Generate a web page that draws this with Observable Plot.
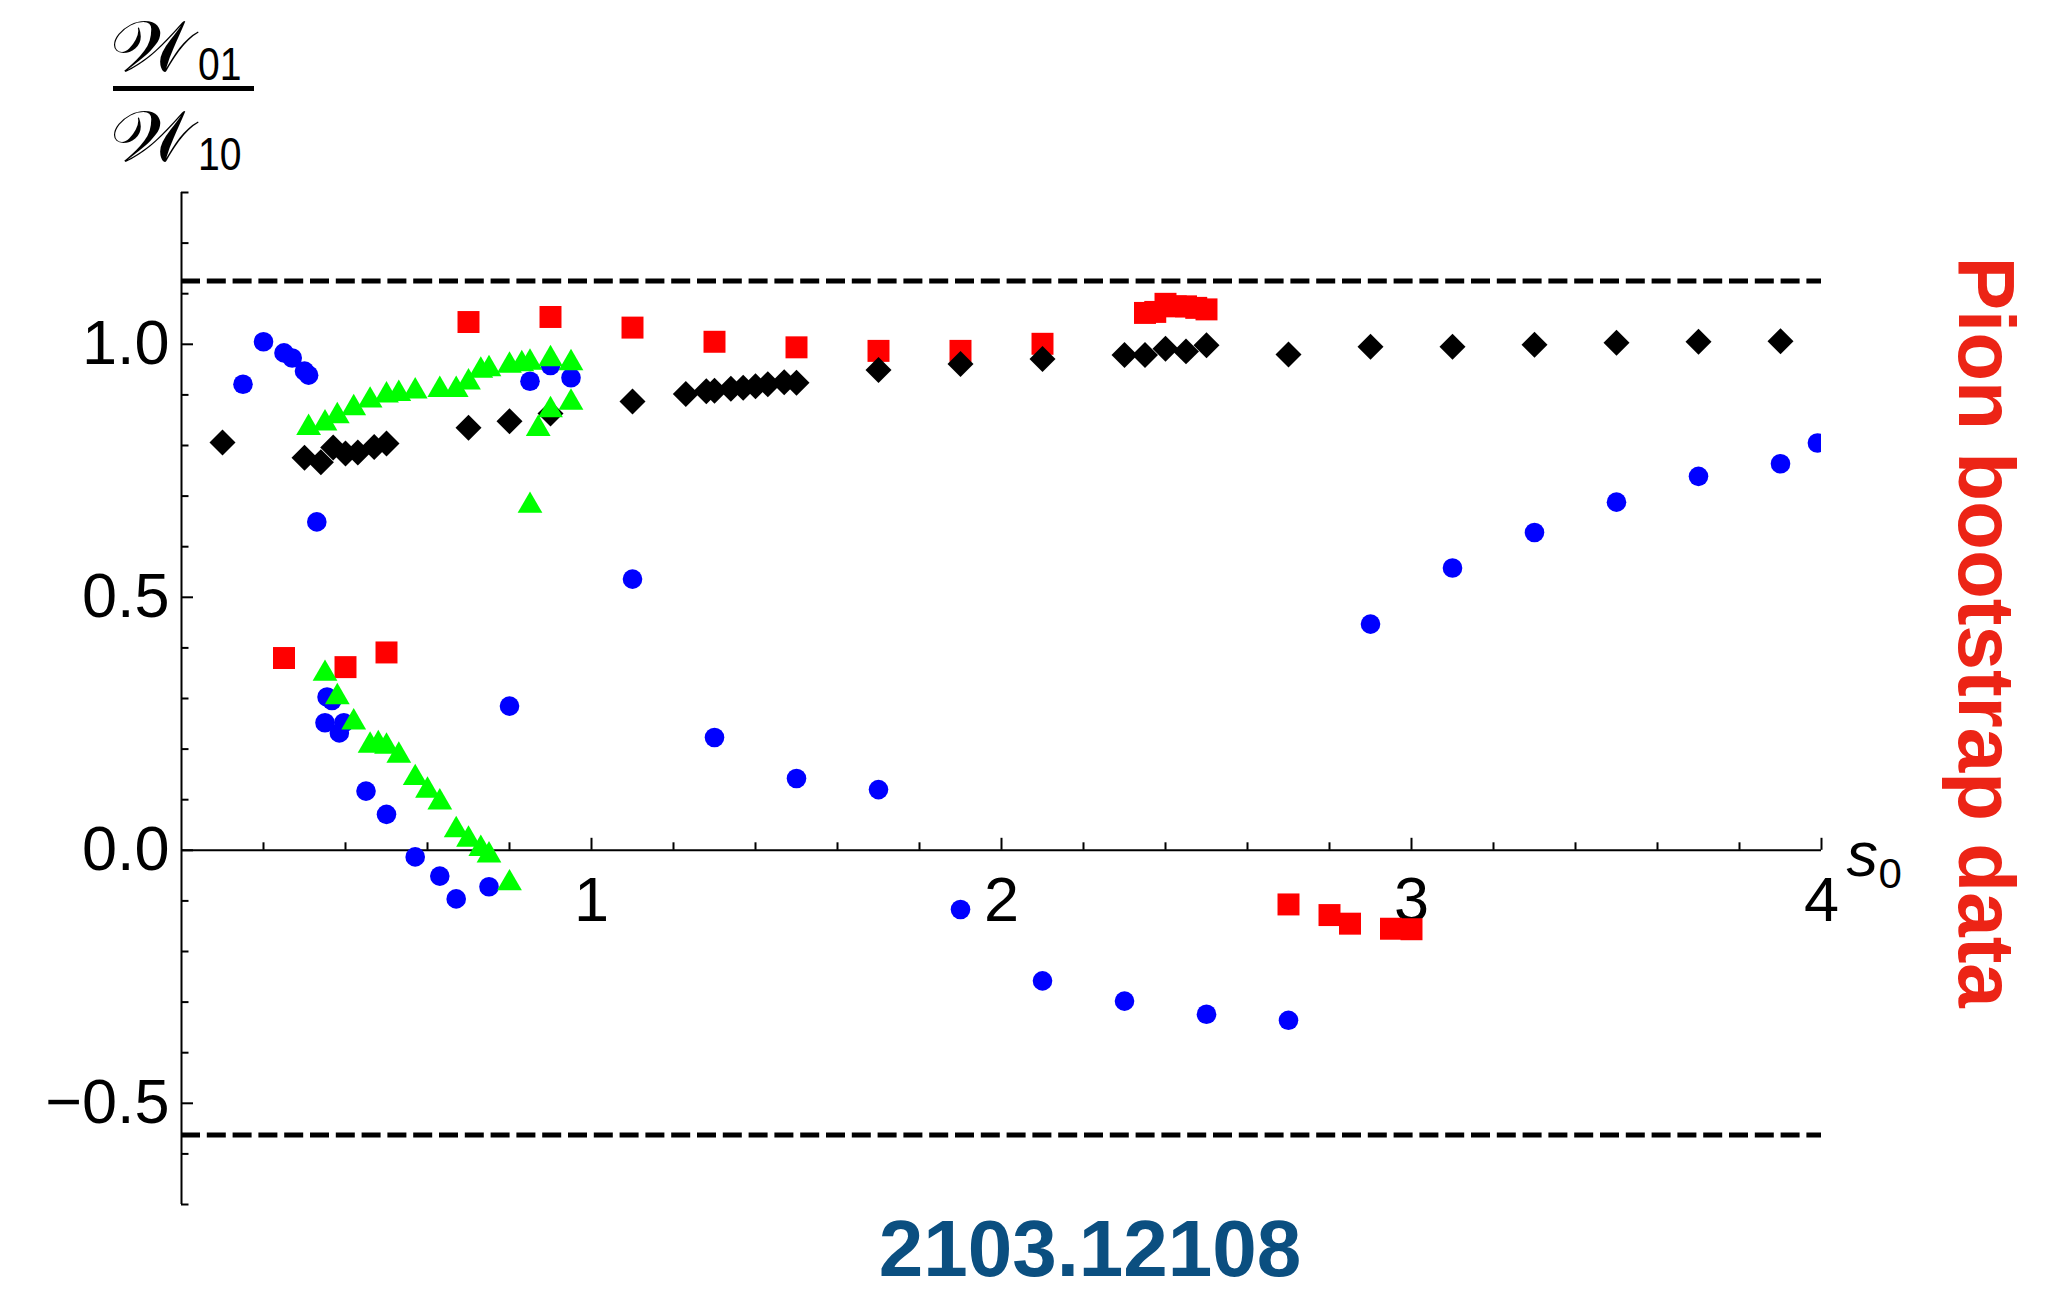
<!DOCTYPE html>
<html>
<head>
<meta charset="utf-8">
<script src="https://cdn.jsdelivr.net/npm/d3@7"></script>
<script src="https://cdn.jsdelivr.net/npm/@observablehq/plot@0.6"></script>
<style>
  html, body { margin: 0; padding: 0; background: #fff; }
  #wrap { width: 2050px; height: 1294px; position: relative; font-family: "Liberation Sans", Arial, sans-serif; }
  #ylab { position: relative; height: 180px; }
  #ylab span { position: absolute; line-height: 1; white-space: nowrap; color: #000; transform-origin: 0 50%; }
  .W { font-family: "DejaVu Serif", "DejaVu Sans", serif; font-size: 72px; transform: scaleX(1.1); }
  .sub { font-family: "Liberation Sans", Arial, sans-serif; font-size: 46px; transform: scaleX(0.85); }
  #bar { position: absolute; left: 113px; top: 86px; width: 141px; height: 4.5px; background: #000; }
  #cap { position: relative; height: 85px; }
  #cap span { position: absolute; left: 1090px; top: -5px; transform: translateX(-50%); line-height: 1.117; white-space: nowrap;
              font-family: "Liberation Sans", Arial, sans-serif; font-weight: bold; font-size: 80px; color: #0b4f80; }
  svg { display: block; }
</style>
</head>
<body>
<div id="wrap">
  <div id="ylab">
    <span class="W" style="left:110px; top:10px;">𝒲</span>
    <span class="sub" style="left:198px; top:41px;">01</span>
    <div id="bar"></div>
    <span class="W" style="left:110px; top:100px;">𝒲</span>
    <span class="sub" style="left:198px; top:131px;">10</span>
  </div>
  <div id="chart"></div>
  <div id="cap"><span>2103.12108</span></div>
</div>
<script>
// ---- data ----
const blueCircles = [
  [0.15, 0.921], [0.20, 1.005], [0.25, 0.983], [0.27, 0.973], [0.30, 0.947], [0.31, 0.939],
  [0.33, 0.649], [0.35, 0.252], [0.355, 0.303], [0.367, 0.296], [0.385, 0.232], [0.396, 0.252],
  [0.45, 0.117], [0.50, 0.071], [0.57, -0.013], [0.63, -0.051], [0.67, -0.096], [0.75, -0.072],
  [0.80, 0.285], [0.85, 0.927], [0.90, 0.958], [0.95, 0.934], [1.10, 0.536], [1.30, 0.223],
  [1.50, 0.142], [1.70, 0.120], [1.90, -0.117], [2.10, -0.258], [2.30, -0.298], [2.50, -0.324],
  [2.70, -0.336], [2.90, 0.447], [3.10, 0.558], [3.30, 0.628], [3.50, 0.688], [3.70, 0.739],
  [3.90, 0.764], [3.99, 0.805]
];
const redSquares = [
  [0.25, 0.380], [0.40, 0.362], [0.50, 0.391], [0.70, 1.044], [0.90, 1.054], [1.10, 1.033],
  [1.30, 1.005], [1.50, 0.994], [1.70, 0.987], [1.90, 0.987], [2.10, 1.001],
  [2.35, 1.062], [2.375, 1.064], [2.40, 1.080], [2.425, 1.075], [2.45, 1.075], [2.475, 1.072], [2.50, 1.069],
  [2.70, -0.107], [2.80, -0.128], [2.85, -0.145], [2.95, -0.155], [3.00, -0.156]
];
const blackDiamonds = [
  [0.10, 0.806], [0.30, 0.776], [0.34, 0.767], [0.37, 0.796], [0.40, 0.784], [0.43, 0.786],
  [0.47, 0.797], [0.50, 0.804], [0.70, 0.835], [0.80, 0.848], [0.90, 0.863], [1.10, 0.887],
  [1.23, 0.902], [1.28, 0.907], [1.30, 0.908], [1.34, 0.912], [1.37, 0.914], [1.40, 0.917],
  [1.43, 0.921], [1.47, 0.925], [1.50, 0.924], [1.70, 0.949], [1.90, 0.961], [2.10, 0.971],
  [2.30, 0.979], [2.35, 0.979], [2.40, 0.991], [2.45, 0.986], [2.50, 0.998], [2.70, 0.980],
  [2.90, 0.995], [3.10, 0.995], [3.30, 0.999], [3.50, 1.003], [3.70, 1.005], [3.90, 1.006]
];
const greenTriangles = [
  [0.31, 0.835], [0.35, 0.844], [0.38, 0.858], [0.42, 0.874], [0.46, 0.889], [0.50, 0.899],
  [0.53, 0.902], [0.57, 0.907], [0.63, 0.910], [0.67, 0.910], [0.70, 0.925], [0.73, 0.948],
  [0.75, 0.951], [0.80, 0.958], [0.83, 0.961], [0.85, 0.964], [0.90, 0.971], [0.95, 0.963],
  [0.85, 0.681], [0.87, 0.833], [0.90, 0.870], [0.95, 0.885],
  [0.35, 0.349], [0.38, 0.303], [0.42, 0.253], [0.46, 0.207], [0.48, 0.210], [0.50, 0.205],
  [0.53, 0.187], [0.57, 0.143], [0.60, 0.118], [0.63, 0.095], [0.67, 0.040], [0.70, 0.021],
  [0.73, 0.003], [0.75, -0.010], [0.80, -0.065]
];
const boundLines = [1.125, -0.5625];
const xMajorTicks = [1, 2, 3, 4];
const xMajorLabels = ["1", "2", "3", "4"];
const xMinorTicks = [0.2, 0.4, 0.6, 0.8, 1.2, 1.4, 1.6, 1.8, 2.2, 2.4, 2.6, 2.8, 3.2, 3.4, 3.6, 3.8];
const yMajorTicks = [-0.5, 0, 0.5, 1.0];
const yMajorLabels = ["\u22120.5", "0.0", "0.5", "1.0"];
const yMinorTicks = [-0.7, -0.6, -0.4, -0.3, -0.2, -0.1, 0.1, 0.2, 0.3, 0.4, 0.6, 0.7, 0.8, 0.9, 1.1, 1.2, 1.3];
const xLabel = "s";
const xLabelSub = "0";
const sideLabel = "Pion bootstrap data";

const font = "Liberation Sans, Arial, sans-serif";
const px = d => d[0], py = d => d[1];

const chart = Plot.plot({
  width: 2050,
  height: 1029,
  marginTop: 12,
  marginBottom: 5,
  marginLeft: 181,
  marginRight: 229,
  x: {domain: [0, 4], axis: null},
  y: {domain: [-0.7, 1.3], axis: null},
  style: {fontFamily: font, background: "white", overflow: "visible"},
  marks: [
    // bound lines
    Plot.ruleY(boundLines, {y: d => d, stroke: "#000", strokeWidth: 5, strokeDasharray: "19,6.8"}),
    // axes lines
    Plot.ruleX([0], {x: d => d, stroke: "#000", strokeWidth: 2}),
    Plot.ruleY([0], {y: d => d, stroke: "#000", strokeWidth: 2}),
    // ticks
    Plot.ruleX(xMajorTicks, {x: d => d, y1: 0, y2: 0, insetBottom: 12, stroke: "#000", strokeWidth: 2}),
    Plot.ruleX(xMinorTicks, {x: d => d, y1: 0, y2: 0, insetBottom: 7.5, stroke: "#000", strokeWidth: 2}),
    Plot.ruleY(yMajorTicks, {y: d => d, x1: 0, x2: 0, insetRight: -12, stroke: "#000", strokeWidth: 2}),
    Plot.ruleY(yMinorTicks, {y: d => d, x1: 0, x2: 0, insetRight: -7.5, stroke: "#000", strokeWidth: 2}),
    // tick labels
    Plot.text(yMajorTicks, {y: d => d, frameAnchor: "left", text: (d, i) => yMajorLabels[i],
      textAnchor: "end", lineAnchor: "middle", dx: -12, fontSize: 63, fill: "#000"}),
    Plot.text(xMajorTicks, {x: d => d, y: 0, text: (d, i) => xMajorLabels[i],
      textAnchor: "middle", lineAnchor: "top", dy: 26, fontSize: 63, fill: "#000"}),
    // axis label s0
    Plot.text([xLabel], {frameAnchor: "right", text: d => d, textAnchor: "start", lineAnchor: "bottom",
      dx: 25, dy: 177, fontSize: 63, fontStyle: "italic", fill: "#000"}),
    Plot.text([xLabelSub], {frameAnchor: "right", text: d => d, textAnchor: "start", lineAnchor: "bottom",
      dx: 57, dy: 189, fontSize: 42, fill: "#000"}),
    // data
    Plot.dot(redSquares, {x: px, y: py, symbol: "square", r: 12.4, fill: "#ff0000", clip: true}),
    Plot.dot(blackDiamonds, {x: px, y: py, symbol: "diamond2", r: 11.7, fill: "#000000", clip: true}),
    Plot.dot(blueCircles, {x: px, y: py, symbol: "circle", r: 9.8, fill: "#0000ff", clip: true}),
    Plot.dot(greenTriangles, {x: px, y: py, symbol: "triangle", r: 9.2, fill: "#00ff00", clip: true}),
    // side label
    Plot.text([sideLabel], {frameAnchor: "right", text: d => d, rotate: 90, textAnchor: "middle", lineAnchor: "middle",
      dx: 163, dy: -66.3, fontSize: 80, fontWeight: "bold", fill: "#ec2416"})
  ]
});
document.getElementById("chart").appendChild(chart);
</script>
</body>
</html>
